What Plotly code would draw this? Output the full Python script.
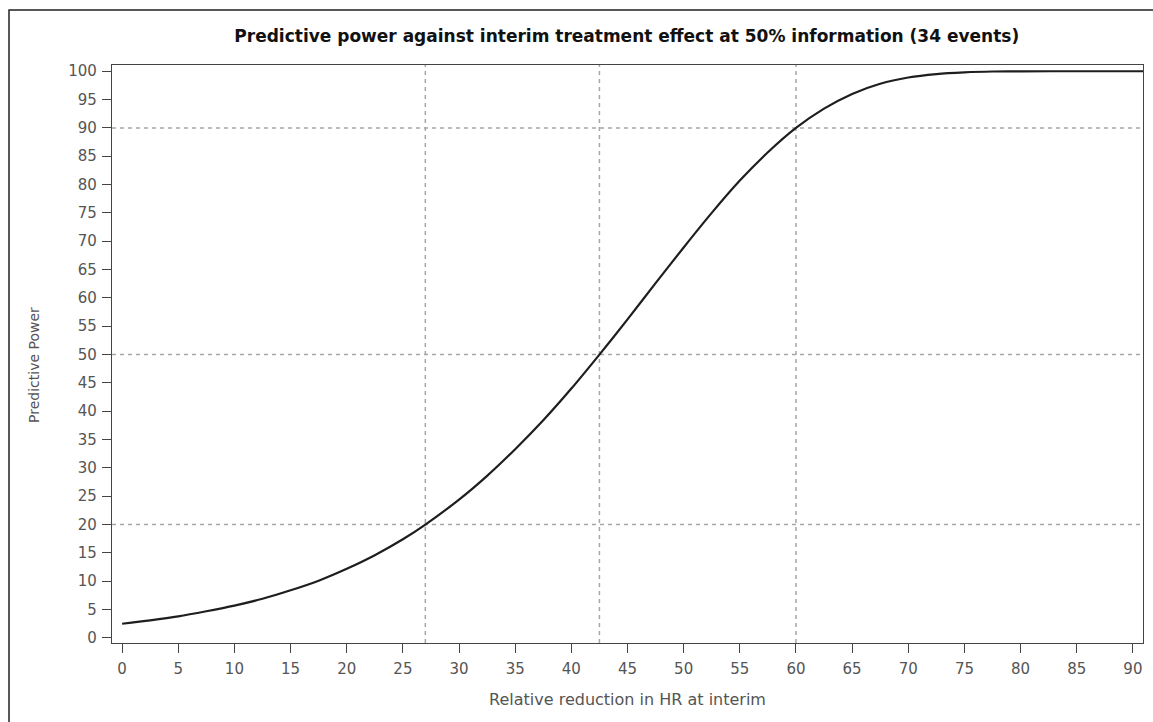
import plotly.graph_objects as go

# Data
reduction = [0, 2.5, 5, 7.5, 10, 12.5, 15, 17.5, 20, 22.5, 25, 27, 30, 32.5, 35, 37.5,
             40, 42.5, 45, 47.5, 50, 52.5, 55, 57.5, 60, 62.5, 65, 67.5, 70, 72.5,
             75, 77.5, 80, 85, 91]
power = [2.5, 3.1, 3.8, 4.7, 5.7, 6.9, 8.4, 10.1, 12.2, 14.6, 17.4, 20.0, 24.4, 28.6,
         33.3, 38.4, 44.0, 50.0, 56.2, 62.6, 68.9, 75.0, 80.7, 85.7, 90.0, 93.4, 96.0,
         97.8, 98.9, 99.5, 99.8, 99.95, 99.99, 100.0, 100.0]
ref_x = [27, 42.5, 60]
ref_y = [20, 50, 90]
x_ticks = list(range(0, 95, 5))
y_ticks = list(range(0, 105, 5))

title_text = "Predictive power against interim treatment effect at 50% information (34 events)"
x_title = "Relative reduction in HR at interim"
y_title = "Predictive Power"

fig = go.Figure()
fig.add_trace(go.Scatter(x=reduction, y=power, mode="lines",
                         line=dict(color="#1e1e1e", width=2.2, shape="spline", smoothing=0.8),
                         showlegend=False, hoverinfo="x+y"))

for v in ref_x:
    fig.add_vline(x=v, line=dict(color="#a6a6a6", width=1.5, dash="4px,4px"), layer="below")
for v in ref_y:
    fig.add_hline(y=v, line=dict(color="#a6a6a6", width=1.5, dash="4px,4px"), layer="below")

font_family = "DejaVu Sans, Verdana, sans-serif"

fig.update_layout(
    width=1153, height=722,
    margin=dict(l=112, r=10, t=65, b=79),
    paper_bgcolor="white", plot_bgcolor="white",
    font=dict(family=font_family, size=14, color="#555555"),
    title=dict(text=f"<b>{title_text}</b>", x=0.5436, xanchor="center", y=0.950, yanchor="middle",
               font=dict(family=font_family, size=17, color="#111111")),
    xaxis=dict(range=[-0.9, 90.9], tickvals=x_ticks, ticks="outside", ticklen=9, tickwidth=1.2,
               tickcolor="#444444", showgrid=False, zeroline=False, showline=True, linecolor="#444444",
               linewidth=1.2, mirror=True, tickfont=dict(size=15, color="#555555"),
               ticklabelstandoff=3,
               title=dict(text=x_title, standoff=16,
                          font=dict(size=16, color="#555555"))),
    yaxis=dict(range=[-0.9, 101.1], tickvals=y_ticks, ticks="outside", ticklen=9, tickwidth=1.2,
               tickcolor="#444444", showgrid=False, zeroline=False, showline=True, linecolor="#444444",
               linewidth=1.2, mirror=True, tickfont=dict(size=15, color="#555555"),
               ticklabelstandoff=2),
)

fig.add_annotation(text=y_title, xref="paper", yref="paper", x=-0.0757, y=0.481,
                   textangle=-90, showarrow=False, xanchor="center", yanchor="middle",
                   font=dict(family=font_family, size=14, color="#555555"))

# outer frame of the original graphic (left and top edges visible)
fig.add_shape(type="rect", xref="paper", yref="paper", x0=-0.0999, x1=1.05, y0=-0.3, y1=1.0952,
              line=dict(color="#222222", width=1.5), fillcolor="rgba(0,0,0,0)", layer="below")

fig.write_html("out.html", config={"displayModeBar": False},
               post_script="document.body.style.margin='0';")
